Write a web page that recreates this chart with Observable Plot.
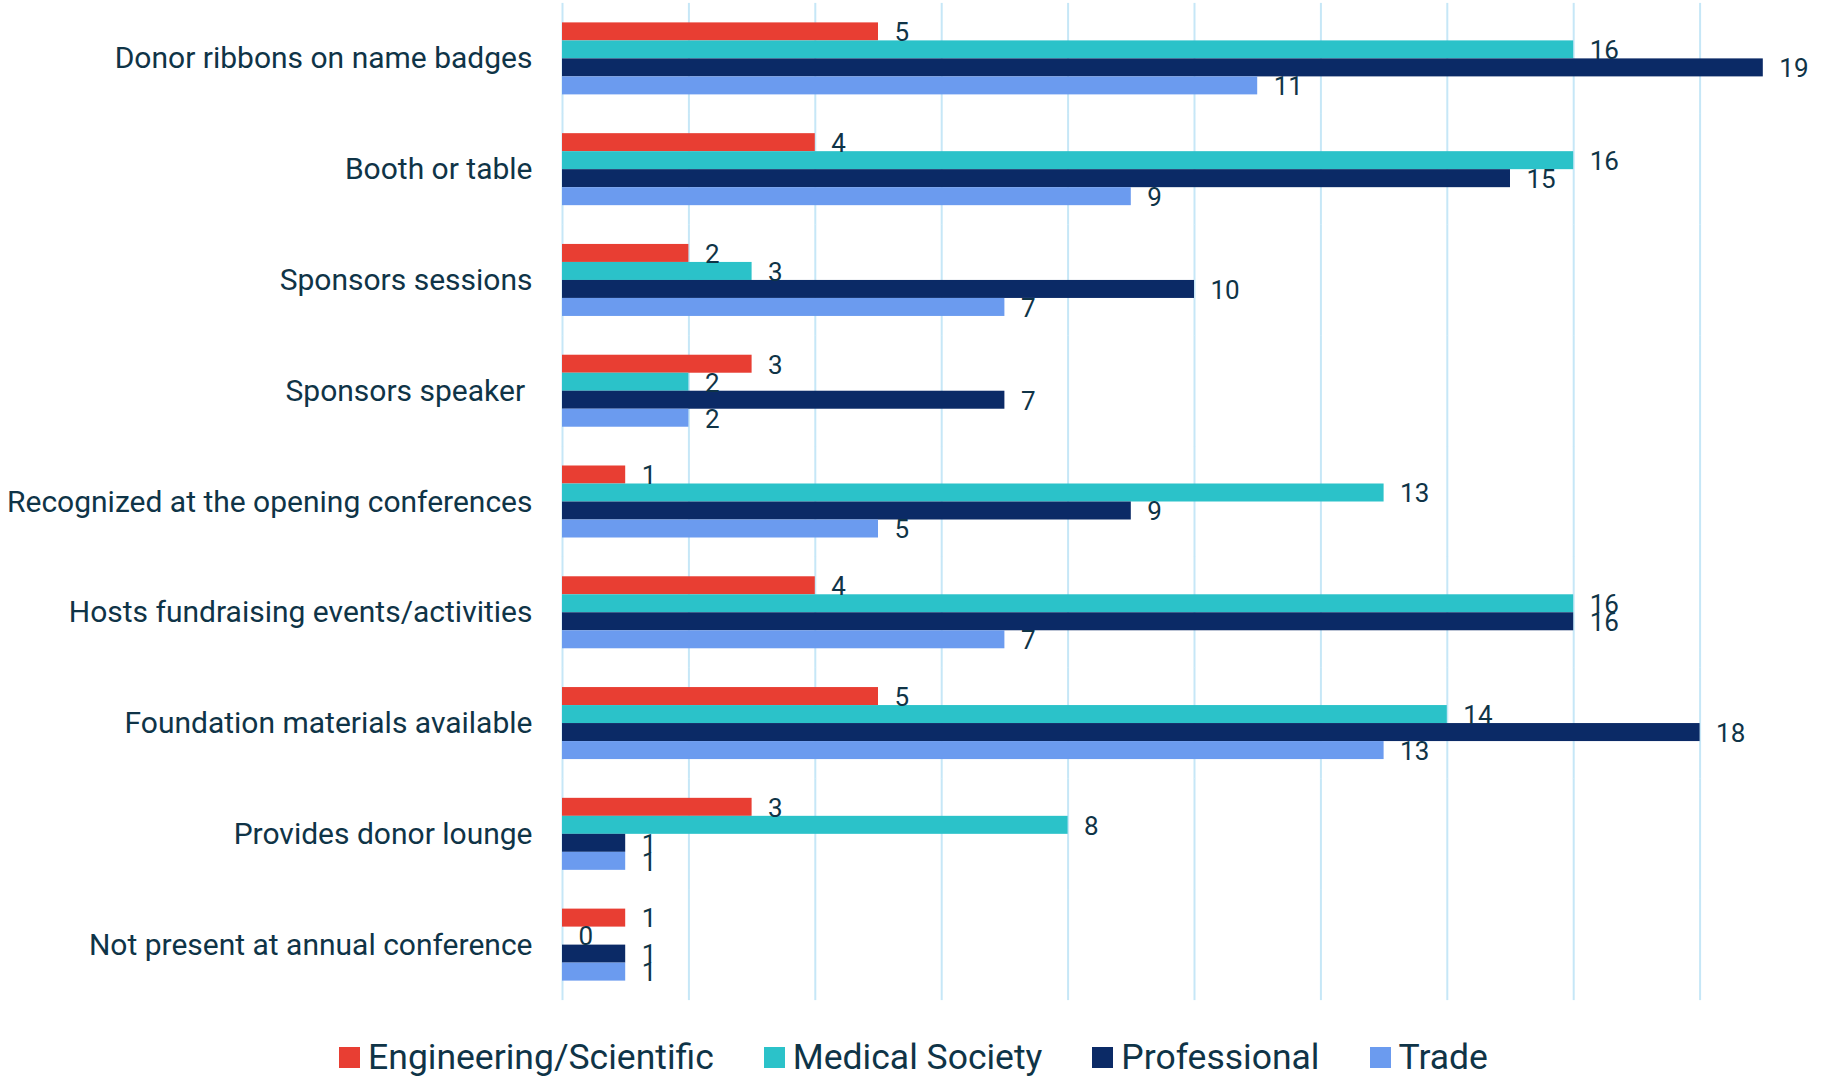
<!DOCTYPE html>
<html>
<head>
<meta charset="utf-8">
<script src="https://cdn.jsdelivr.net/npm/d3@7"></script>
<script src="https://cdn.jsdelivr.net/npm/@observablehq/plot@0.6"></script>
<style>
  html, body { margin: 0; padding: 0; background: #ffffff; }
  body { width: 1827px; height: 1078px; position: relative; overflow: hidden;
         font-family: "Roboto", "Liberation Sans", sans-serif; color: #0f3447; }
  #chart { position: absolute; left: 0; top: 0; }
  #legend { position: absolute; left: 0; top: 1036px; width: 1827px; display: flex; justify-content: center;
            align-items: center; font-size: 35.5px; height: 42px; }
  .item { display: flex; align-items: center; margin: 0 25px; }
  .sw { width: 21px; height: 21px; margin-right: 8px; }
</style>
</head>
<body>
<div id="chart"></div>
<div id="legend"></div>
<script>
const categories = [
  "Donor ribbons on name badges",
  "Booth or table",
  "Sponsors sessions",
  "Sponsors speaker\u00a0",
  "Recognized at the opening conferences",
  "Hosts fundraising events/activities",
  "Foundation materials available",
  "Provides donor lounge",
  "Not present at annual conference"
];
const series = ["Engineering/Scientific", "Medical Society", "Professional", "Trade"];
const engineering = [5, 4, 2, 3, 1, 4, 5, 3, 1];
const medical = [16, 16, 3, 2, 13, 16, 14, 8, 0];
const professional = [19, 15, 10, 7, 9, 16, 18, 1, 1];
const trade = [11, 9, 7, 2, 5, 7, 13, 1, 1];
const colors = ["#e83e33", "#2bc2c9", "#0b2a66", "#6b9bef"];
const gridValues = [0, 2, 4, 6, 8, 10, 12, 14, 16, 18];

const seriesValues = [engineering, medical, professional, trade];
const data = [];
categories.forEach((c, i) => {
  series.forEach((s, j) => {
    data.push({category: c, series: s, value: seriesValues[j][i]});
  });
});

const chart = Plot.plot({
  width: 1827,
  height: 1010,
  marginLeft: 562,
  marginRight: 1,
  marginTop: 3,
  marginBottom: 10,
  style: {fontSize: "30px", fontFamily: "Roboto, 'Liberation Sans', sans-serif", color: "#0f3447", background: "white"},
  x: {domain: [0, 20], axis: null},
  y: {domain: series, axis: null, padding: 0, round: false},
  fy: {domain: categories, paddingInner: 0.35, paddingOuter: 0.175, round: false, label: null, tickSize: 0, tickPadding: 30, axis: "left"},
  color: {domain: series, range: colors},
  marks: [
    Plot.ruleX(gridValues, {x: d => d, stroke: "#c6e7f7", strokeWidth: 2, strokeOpacity: 1, insetTop: -19.5, insetBottom: -19.5}),
    Plot.barX(data, {fy: "category", y: "series", x: "value", fill: "series"}),
    Plot.text(data, {fy: "category", y: "series", x: "value", text: d => String(d.value), dx: 16, dy: 1, textAnchor: "start", fontSize: 26, fill: "#0f3447"})
  ]
});
document.getElementById("chart").appendChild(chart);

const legend = document.getElementById("legend");
series.forEach((s, i) => {
  const item = document.createElement("div");
  item.className = "item";
  const sw = document.createElement("div");
  sw.className = "sw";
  sw.style.background = colors[i];
  const label = document.createElement("span");
  label.textContent = s;
  item.appendChild(sw);
  item.appendChild(label);
  legend.appendChild(item);
});
</script>
</body>
</html>
